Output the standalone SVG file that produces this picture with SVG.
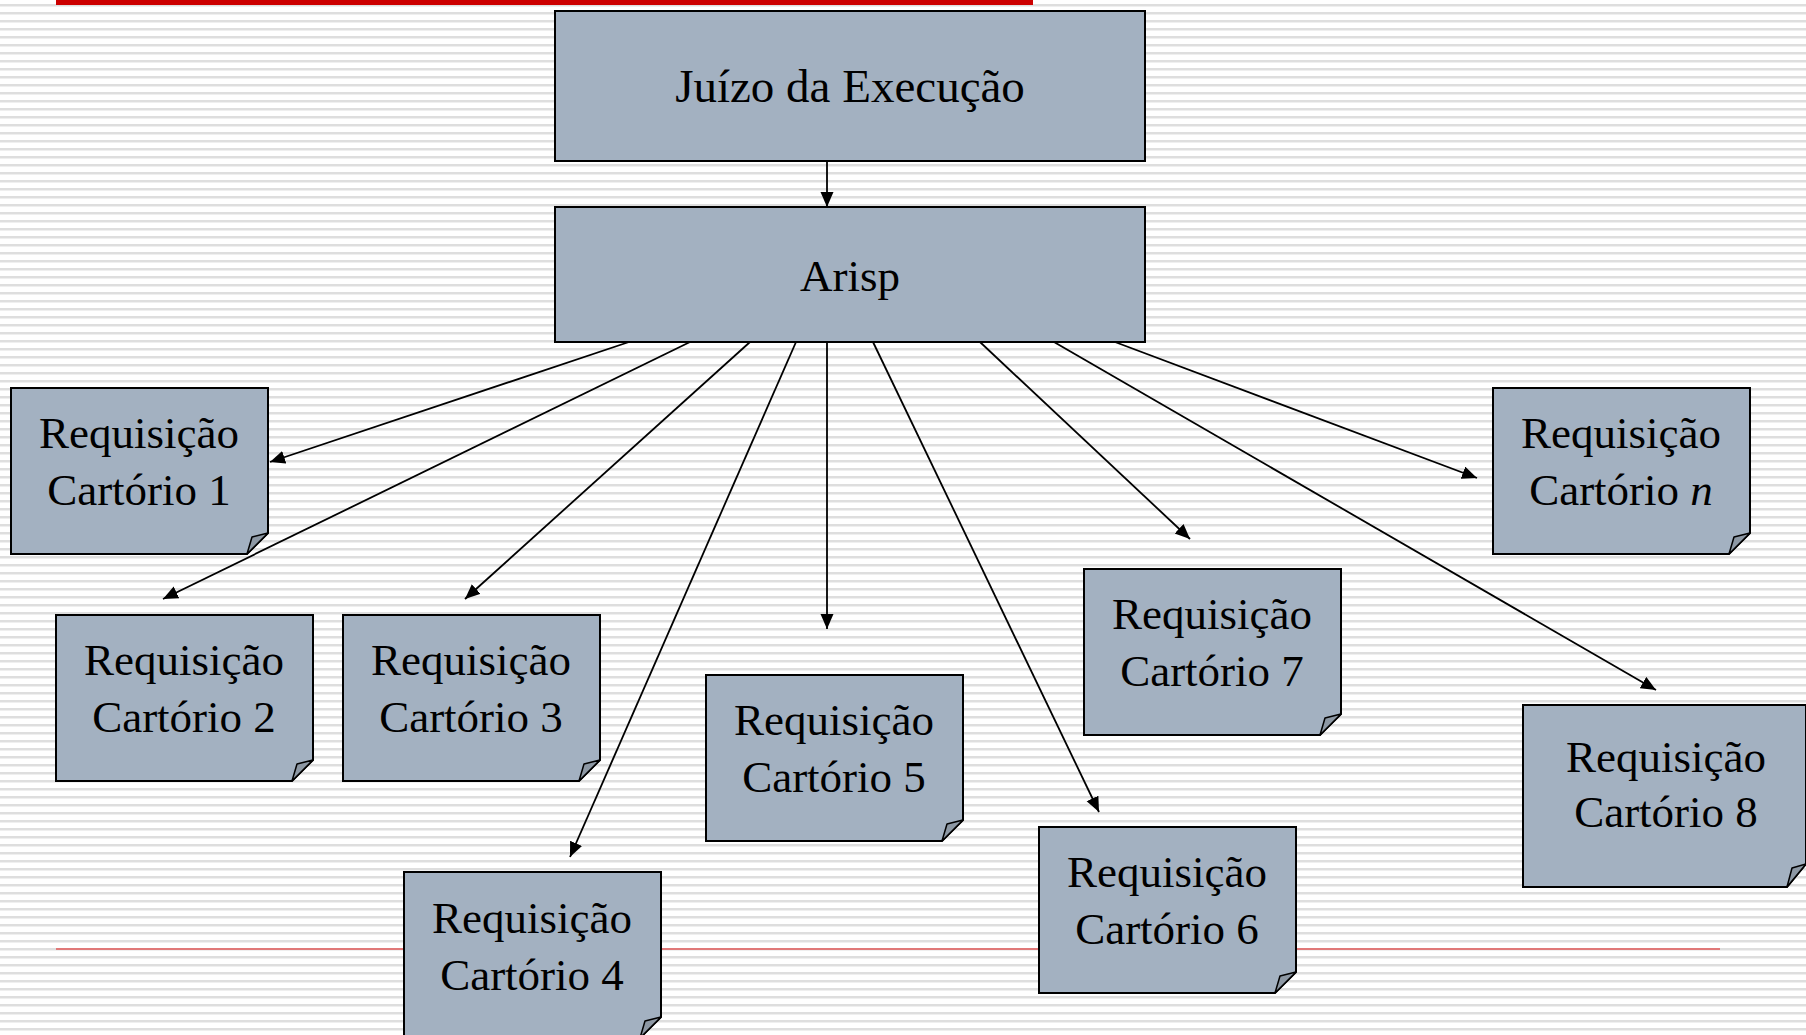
<svg xmlns="http://www.w3.org/2000/svg" width="1806" height="1035" viewBox="0 0 1806 1035">
<defs>
<pattern id="stripes" patternUnits="userSpaceOnUse" x="0" y="0" width="8" height="8">
<rect width="8" height="8" fill="#ffffff"/>
<rect y="4" width="8" height="2" fill="#dedede"/>
<rect y="6" width="8" height="1" fill="#efefef"/>
</pattern>
<marker id="arr" markerUnits="userSpaceOnUse" markerWidth="16" markerHeight="14" refX="15" refY="6.5" orient="auto">
<path d="M0,0 L15,6.5 L0,13 Z" fill="#000"/>
</marker>
</defs>
<style>
.box{fill:#a3b1c1;stroke:#000;stroke-width:2}
.flap{fill:#8d98a4;stroke:#000;stroke-width:1.5;stroke-linejoin:round}
.t{font-family:"Liberation Serif","Times New Roman",serif;font-size:45px;fill:#000;text-anchor:middle}
.big{font-size:47px}
.c{stroke:#000;stroke-width:1.8;fill:none;marker-end:url(#arr)}
</style>
<rect width="1806" height="1035" fill="url(#stripes)"/>
<rect x="56" y="0" width="977" height="5" fill="#cc0000"/>
<line x1="56" y1="949" x2="1720" y2="949" stroke="#e07878" stroke-width="2"/>

<g id="connectors">
<line class="c" x1="827" y1="161" x2="827" y2="207"/>
<line class="c" x1="629" y1="342" x2="270" y2="462"/>
<line class="c" x1="690" y1="342" x2="163" y2="599"/>
<line class="c" x1="750" y1="342" x2="465" y2="599"/>
<line class="c" x1="796" y1="342" x2="570" y2="857"/>
<line class="c" x1="827" y1="342" x2="827" y2="629"/>
<line class="c" x1="873" y1="342" x2="1099" y2="812"/>
<line class="c" x1="980" y1="342" x2="1190" y2="539"/>
<line class="c" x1="1054" y1="342" x2="1656" y2="690"/>
<line class="c" x1="1115" y1="342" x2="1477" y2="478"/>
</g>

<g id="juizo">
<rect class="box" x="555" y="11" width="590" height="150"/>
<text class="t big" x="850" y="102">Juízo da Execução</text>
</g>
<g id="arisp">
<rect class="box" x="555" y="207" width="590" height="135"/>
<text class="t" x="850" y="291">Arisp</text>
</g>

<g id="cartorio1">
<path class="box" d="M11,388 H268 V533 L247,554 H11 Z"/>
<path class="flap" d="M268,533 L252,537 L247,554 Z"/>
<text class="t" x="139" y="448">Requisição</text>
<text class="t" x="139" y="505">Cartório 1</text>
</g>
<g id="cartorio2">
<path class="box" d="M56,615 H313 V760 L292,781 H56 Z"/>
<path class="flap" d="M313,760 L297,764 L292,781 Z"/>
<text class="t" x="184" y="675">Requisição</text>
<text class="t" x="184" y="732">Cartório 2</text>
</g>
<g id="cartorio3">
<path class="box" d="M343,615 H600 V760 L579,781 H343 Z"/>
<path class="flap" d="M600,760 L584,764 L579,781 Z"/>
<text class="t" x="471" y="675">Requisição</text>
<text class="t" x="471" y="732">Cartório 3</text>
</g>
<g id="cartorio4">
<path class="box" d="M404,872 H661 V1017 L640,1038 H404 Z"/>
<path class="flap" d="M661,1017 L645,1021 L640,1038 Z"/>
<text class="t" x="532" y="933">Requisição</text>
<text class="t" x="532" y="990">Cartório 4</text>
</g>
<g id="cartorio5">
<path class="box" d="M706,675 H963 V820 L942,841 H706 Z"/>
<path class="flap" d="M963,820 L947,824 L942,841 Z"/>
<text class="t" x="834" y="735">Requisição</text>
<text class="t" x="834" y="792">Cartório 5</text>
</g>
<g id="cartorio6">
<path class="box" d="M1039,827 H1296 V972 L1275,993 H1039 Z"/>
<path class="flap" d="M1296,972 L1280,976 L1275,993 Z"/>
<text class="t" x="1167" y="887">Requisição</text>
<text class="t" x="1167" y="944">Cartório 6</text>
</g>
<g id="cartorio7">
<path class="box" d="M1084,569 H1341 V714 L1320,735 H1084 Z"/>
<path class="flap" d="M1341,714 L1325,718 L1320,735 Z"/>
<text class="t" x="1212" y="629">Requisição</text>
<text class="t" x="1212" y="686">Cartório 7</text>
</g>
<g id="cartorio8">
<path class="box" d="M1523,705 H1806 V864 L1787,887 H1523 Z"/>
<path class="flap" d="M1806,864 L1792,868 L1787,887 Z"/>
<text class="t" x="1666" y="772">Requisição</text>
<text class="t" x="1666" y="827">Cartório 8</text>
</g>
<g id="cartorion">
<path class="box" d="M1493,388 H1750 V533 L1729,554 H1493 Z"/>
<path class="flap" d="M1750,533 L1734,537 L1729,554 Z"/>
<text class="t" x="1621" y="448">Requisição</text>
<text class="t" x="1621" y="505">Cartório <tspan font-style="italic">n</tspan></text>
</g>
</svg>
